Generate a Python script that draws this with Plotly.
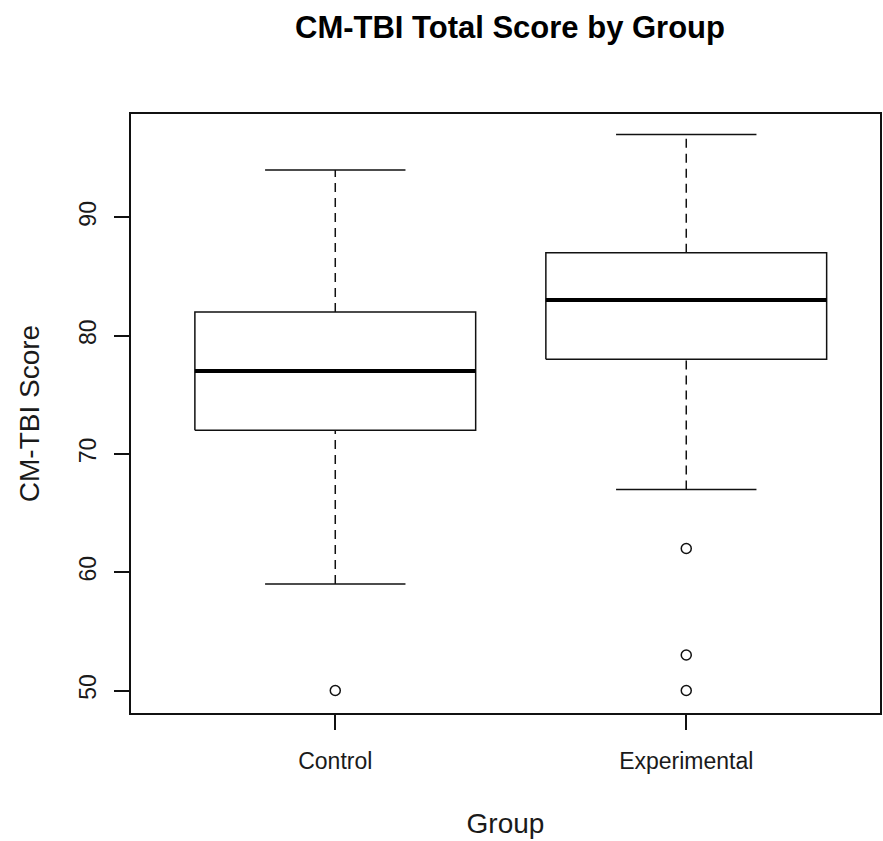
import plotly.graph_objects as go

groups = ["Control", "Experimental"]
positions = [1, 2]
lower_whisker = [59, 67]
q1 = [72, 78]
median = [77, 83]
q3 = [82, 87]
upper_whisker = [94, 97]
outliers = [[50], [62, 53, 50]]
y_ticks = [50, 60, 70, 80, 90]

BOX_HALF = 0.4
CAP_HALF = 0.2
LINE = "#111111"
FONT = "Liberation Sans, Arial, sans-serif"

fig = go.Figure()

for i, c in enumerate(positions):
    # whiskers (dashed)
    fig.add_trace(go.Scatter(
        x=[c, c, None, c, c],
        y=[lower_whisker[i], q1[i], None, q3[i], upper_whisker[i]],
        mode="lines", line=dict(color=LINE, width=1.5, dash="9px,6px"),
        hoverinfo="skip", showlegend=False))
    # caps
    fig.add_trace(go.Scatter(
        x=[c - CAP_HALF, c + CAP_HALF, None, c - CAP_HALF, c + CAP_HALF],
        y=[lower_whisker[i], lower_whisker[i], None, upper_whisker[i], upper_whisker[i]],
        mode="lines", line=dict(color=LINE, width=1.5),
        hoverinfo="skip", showlegend=False))
    # box
    fig.add_trace(go.Scatter(
        x=[c - BOX_HALF, c + BOX_HALF, c + BOX_HALF, c - BOX_HALF, c - BOX_HALF],
        y=[q1[i], q1[i], q3[i], q3[i], q1[i]],
        mode="lines", line=dict(color=LINE, width=1.5),
        hoverinfo="skip", showlegend=False))
    # median
    fig.add_trace(go.Scatter(
        x=[c - BOX_HALF, c + BOX_HALF],
        y=[median[i], median[i]],
        mode="lines", line=dict(color="#000000", width=4),
        hoverinfo="skip", showlegend=False))
    # outliers
    fig.add_trace(go.Scatter(
        x=[c] * len(outliers[i]), y=outliers[i],
        mode="markers",
        marker=dict(symbol="circle-open", size=10, color=LINE, line=dict(width=1.5)),
        hoverinfo="skip", showlegend=False))

fig.update_layout(
    width=883, height=841,
    margin=dict(l=131, r=1, t=114, b=128),
    paper_bgcolor="white", plot_bgcolor="white",
    font=dict(family=FONT, size=23, color="#1a1a1a"),
    title=dict(text="<b>CM-TBI Total Score by Group</b>",
               x=510 / 883, xanchor="center", xref="container",
               y=1 - 27 / 841, yanchor="middle", yref="container",
               font=dict(family=FONT, size=31, color="#000000")),
    xaxis=dict(range=[0.418, 2.552], tickmode="array", tickvals=positions,
               ticktext=groups, showgrid=False, zeroline=False,
               showline=True, mirror=True, linecolor=LINE, linewidth=1.5,
               ticks="outside", ticklen=15, tickwidth=1.5, tickcolor=LINE,
               ticklabelstandoff=12,
               title=dict(text="Group", standoff=40)),
    yaxis=dict(range=[48.10, 98.73], tickmode="array", tickvals=y_ticks,
               ticktext=[str(v) for v in y_ticks], tickangle=-90,
               showgrid=False, zeroline=False,
               showline=True, mirror=True, linecolor=LINE, linewidth=1.5,
               ticks="outside", ticklen=15, tickwidth=1.5, tickcolor=LINE,
               ticklabelstandoff=9,
               title=dict(text="CM-TBI Score", standoff=27)),
)

fig.write_html("out.html")
